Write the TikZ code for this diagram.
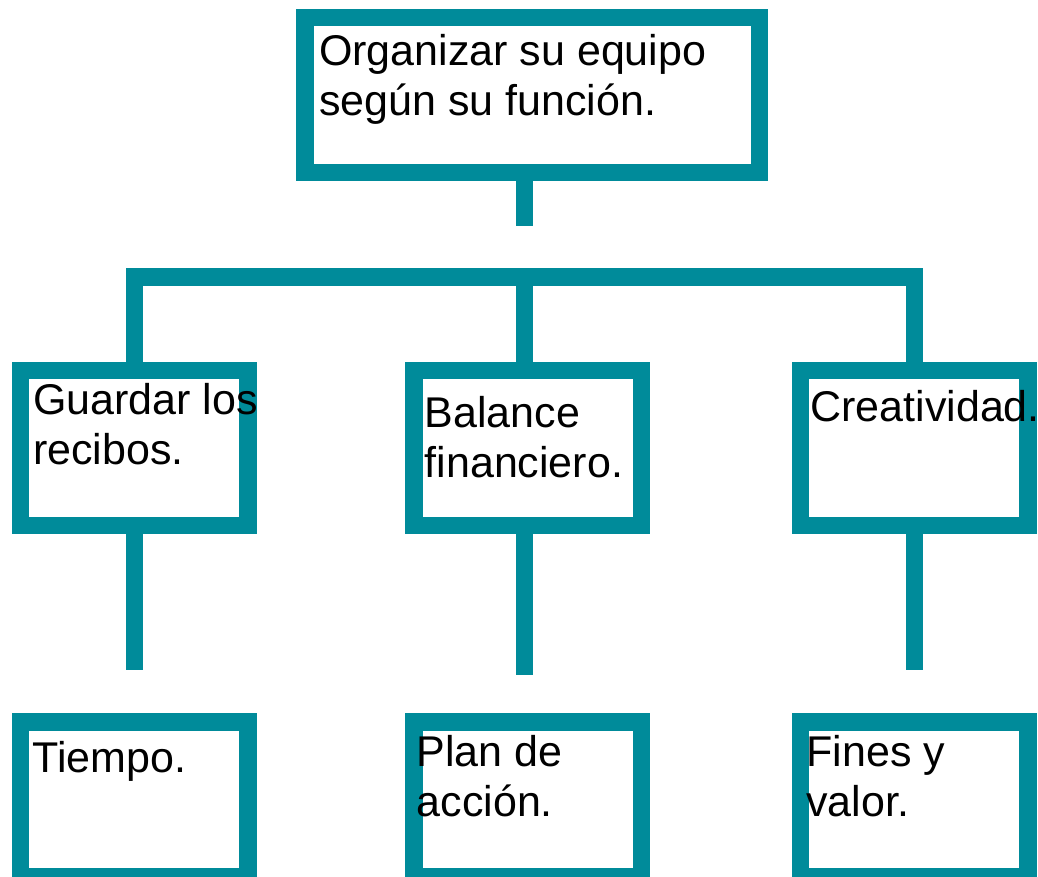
\documentclass[tikz,border=0pt]{standalone}
\usepackage{fontspec}
\setmainfont{Liberation Sans}
\usepackage{xcolor}
\usepackage{tikz}
\usetikzlibrary{positioning, calc}
\definecolor{boxteal}{RGB}{0,139,154}
\tikzset{box/.style={rectangle,draw=boxteal,line width=17.5pt,fill=white,inner sep=0pt,minimum width=227.5pt,minimum height=155pt},
         link/.style={draw=boxteal,line width=17.5pt,line cap=butt,line join=miter},
         txt/.style={inner sep=0pt,outer sep=0pt,align=left,anchor=base west,font=\fontsize{43}{50}\selectfont}}

\begin{document}
\begin{tikzpicture}[x=1pt,y=1pt]
    \useasboundingbox (0,0) rectangle (1038,877);
    % Boxes
    \node (org) at (532.1,782) [box,minimum width=454.5pt]{};
    \node (gl) at (134.25,429) [box]{};
    \node (bal) at (527.8,429) [box]{};
    \node (cr) at (914.4,429) [box]{};
    \node (ti) at (134.25,77.75) [box,minimum height=154.5pt]{};
    \node (pa) at (527.8,77.75) [box,minimum height=154.5pt]{};
    \node (fv) at (914.4,77.75) [box,minimum height=154.5pt]{};
    % Connector ends
    \coordinate (stub) at (524.5,651.3);
    \coordinate (hub) at (524.5,600);
    \coordinate (gl-end) at (134.25,207.3);
    \coordinate (bal-end) at (524.5,202);
    \coordinate (cr-end) at (914.4,207.3);
    % Connectors
    \draw[link] (stub |- org.south) -- (stub);
    \draw[link] (gl.north) |- (hub) -| (cr.north);
    \draw[link] (hub) -- (hub |- bal.north);
    \draw[link] (gl.south) -- (gl-end);
    \draw[link] (bal-end |- bal.south) -- (bal-end);
    \draw[link] (cr.south) -- (cr-end);
    % Texts (base = last line)
    \node (org-t) [txt] at ([shift={(23,-106.5)}]org.north west) {Organizar su equipo\\según su función.};
    \node (gl-t) [txt] at ([shift={(21.5,-102.5)}]gl.north west) {Guardar los\\recibos.};
    \node (bal-t) [txt] at ([shift={(19.4,-116)}]bal.north west) {Balance\\financiero.};
    \node (cr-t) [txt] at ([shift={(18.5,-60)}]cr.north west) {Creatividad.};
    \node (ti-t) [txt] at ([shift={(21,-59.4)}]ti.north west) {Tiempo.};
    \node (pa-t) [txt] at ([shift={(11.4,-103.4)}]pa.north west) {Plan de\\acción.};
    \node (fv-t) [txt] at ([shift={(14.5,-103.4)}]fv.north west) {Fines y\\valor.};
  \end{tikzpicture}
\end{document}
